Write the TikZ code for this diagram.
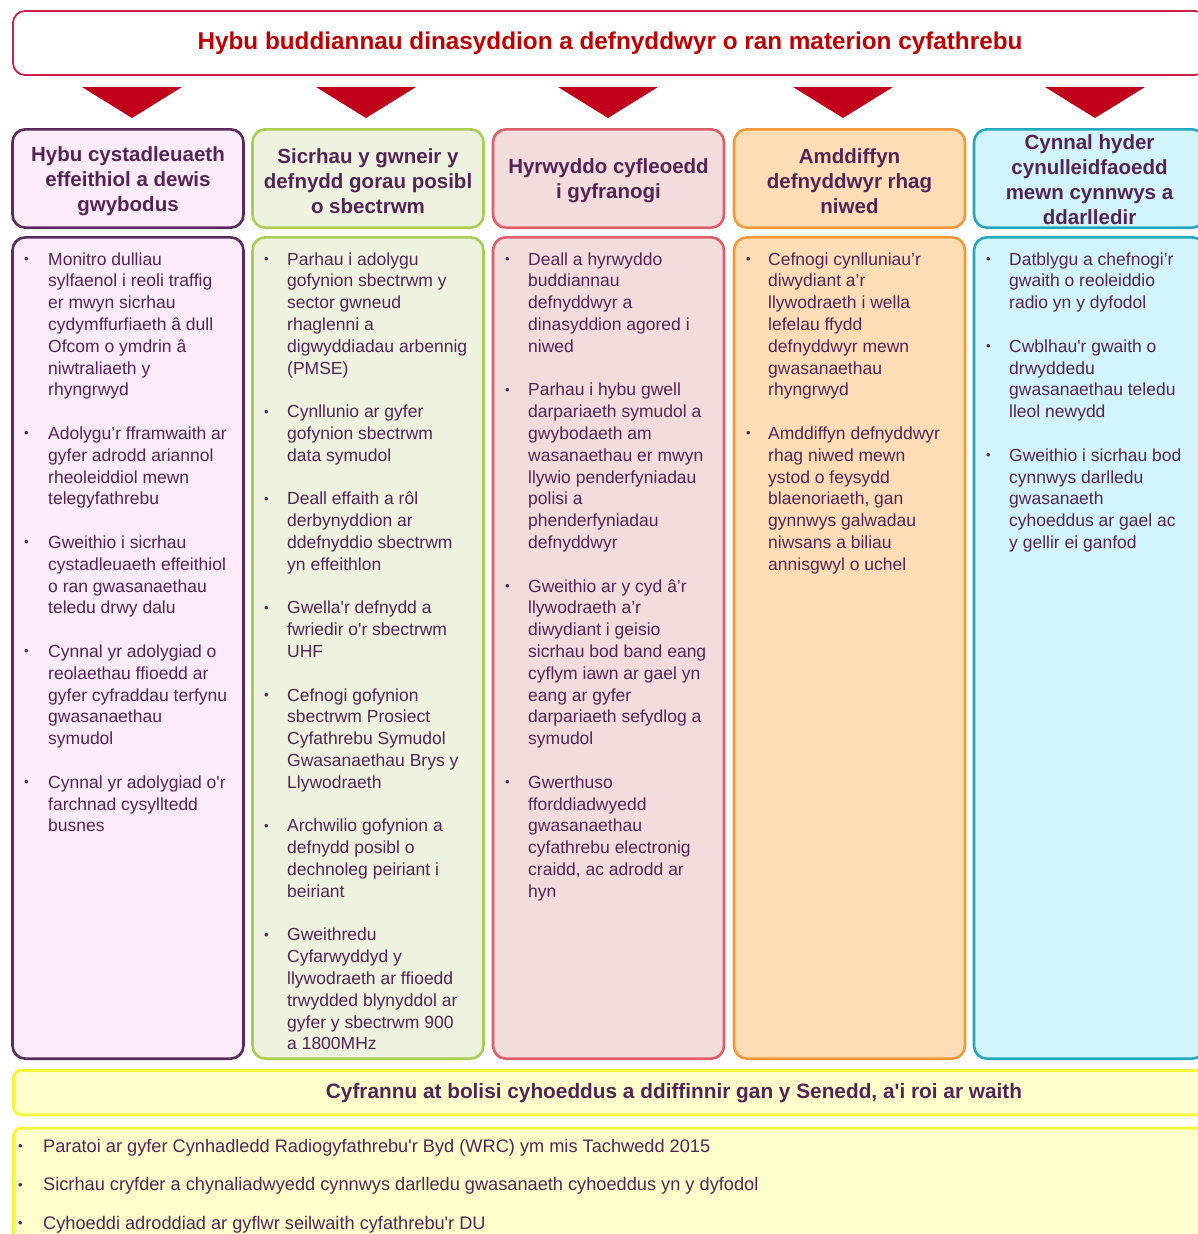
\documentclass[tikz,border=0pt]{standalone}
\usepackage{fontspec}
\setmainfont{Liberation Sans}[Ligatures=TeXOff]
\definecolor{txt}{RGB}{84,36,86}
\definecolor{titlered}{HTML}{C00000}
\definecolor{bannerred}{HTML}{CC1F4E}
\definecolor{arrowred}{HTML}{C0001A}
\definecolor{cAfill}{HTML}{FCEBF8}\definecolor{cAdraw}{HTML}{5B2A5C}
\definecolor{cBfill}{HTML}{EDF3DF}\definecolor{cBdraw}{HTML}{A8CF54}
\definecolor{cCfill}{HTML}{F2DCDC}\definecolor{cCdraw}{HTML}{DE5F6B}
\definecolor{cDfill}{HTML}{FDDDB6}\definecolor{cDdraw}{HTML}{F29A3A}
\definecolor{cEfill}{HTML}{D1F5FB}\definecolor{cEdraw}{HTML}{25A7BE}
\definecolor{yfill}{HTML}{FFFFCC}\definecolor{ydraw}{HTML}{F5F53C}
\newcommand{\bu}{\hspace{3pt}{\fontsize{13}{13}\selectfont\raisebox{1.5pt}{•}}}
\newenvironment{blist}[1]{\begin{tabular}[t]{@{}p{#1}@{}l@{}}}{\end{tabular}}
\begin{document}
\begin{tikzpicture}[x=1pt,y=-1pt,
  box/.style={draw, line width=2.6pt, rounded corners=13pt, inner sep=0pt, minimum width=231pt},
  headbox/.style={box, minimum height=98.4pt},
  bodybox/.style={box, minimum height=821.4pt},
  headtxt/.style={align=center, inner sep=0pt, font=\fontsize{20.5}{25}\selectfont\bfseries, text=txt},
  bodytxt/.style={anchor=base west, inner sep=0pt, font=\fontsize{17.5}{21.8}\selectfont, text=txt},
  arrowtri/.style={fill=arrowred, draw=none}]
\useasboundingbox (0,0) rectangle (1198,1234);
\clip (0,0) rectangle (1198,1234);
\fill[white] (0,0) rectangle (1198,1234);

% banner
\node[draw=bannerred, line width=1.8pt, fill=white, rounded corners=12pt, inner sep=0pt,
  minimum width=1194pt, minimum height=64pt] (banner) at (610,43) {};
\node[inner sep=0pt, font=\fontsize{24.3}{28}\selectfont\bfseries, text=titlered] (title) at (610,43.5)
  {Hybu buddiannau dinasyddion a defnyddwyr o ran materion cyfathrebu};

% arrows
\coordinate (a1) at (132,87);
\coordinate (a2) at (366,87);
\coordinate (a3) at (608,87);
\coordinate (a4) at (843,87);
\coordinate (a5) at (1095,87);
\foreach \a in {a1,a2,a3,a4,a5}
  \fill[arrowtri] (\a) ++(-50,0) -- ++(100,0) -- ++(-50,31) -- cycle;

% header boxes
\node[headbox, fill=cAfill, draw=cAdraw] (h1) at (128,178.5) {};
\node[headbox, fill=cBfill, draw=cBdraw] (h2) at (368,178.5) {};
\node[headbox, fill=cCfill, draw=cCdraw] (h3) at (608.5,178.5) {};
\node[headbox, fill=cDfill, draw=cDdraw] (h4) at (849.5,178.5) {};
\node[headbox, fill=cEfill, draw=cEdraw] (h5) at (1089.5,178.5) {};
\node[headtxt] (ht1) at (128,181) {Hybu cystadleuaeth\\effeithiol a dewis\\gwybodus};
\node[headtxt] (ht2) at (368,181) {Sicrhau y gwneir y\\defnydd gorau posibl\\o sbectrwm};
\node[headtxt] (ht3) at (608.5,181) {Hyrwyddo cyfleoedd\\i gyfranogi};
\node[headtxt] (ht4) at (849.5,181) {Amddiffyn\\defnyddwyr rhag\\niwed};
\node[headtxt] (ht5) at (1089.5,179.5) {Cynnal hyder\\cynulleidfaoedd\\mewn cynnwys a\\ddarlledir};

% body boxes
\node[bodybox, fill=cAfill, draw=cAdraw] (b1) at (128,648) {};
\node[bodybox, fill=cBfill, draw=cBdraw] (b2) at (368,648) {};
\node[bodybox, fill=cCfill, draw=cCdraw] (b3) at (608.5,648) {};
\node[bodybox, fill=cDfill, draw=cDdraw] (b4) at (849.5,648) {};
\node[bodybox, fill=cEfill, draw=cEdraw] (b5) at (1089.5,648) {};

\node[bodytxt] (t1) at (21,265) {\begin{blist}{27pt}
\bu & Monitro dulliau\\
 & sylfaenol i reoli traffig\\
 & er mwyn sicrhau\\
 & cydymffurfiaeth â dull\\
 & Ofcom o ymdrin â\\
 & niwtraliaeth y\\
 & rhyngrwyd\\
 & \\
\bu & Adolygu’r fframwaith ar\\
 & gyfer adrodd ariannol\\
 & rheoleiddiol mewn\\
 & telegyfathrebu\\
 & \\
\bu & Gweithio i sicrhau\\
 & cystadleuaeth effeithiol\\
 & o ran gwasanaethau\\
 & teledu drwy dalu\\
 & \\
\bu & Cynnal yr adolygiad o\\
 & reolaethau ffioedd ar\\
 & gyfer cyfraddau terfynu\\
 & gwasanaethau\\
 & symudol\\
 & \\
\bu & Cynnal yr adolygiad o'r\\
 & farchnad cysylltedd\\
 & busnes
\end{blist}};

\node[bodytxt] (t2) at (261,265) {\begin{blist}{26pt}
\bu & Parhau i adolygu\\
 & gofynion sbectrwm y\\
 & sector gwneud\\
 & rhaglenni a\\
 & digwyddiadau arbennig\\
 & (PMSE)\\
 & \\
\bu & Cynllunio ar gyfer\\
 & gofynion sbectrwm\\
 & data symudol\\
 & \\
\bu & Deall effaith a rôl\\
 & derbynyddion ar\\
 & ddefnyddio sbectrwm\\
 & yn effeithlon\\
 & \\
\bu & Gwella'r defnydd a\\
 & fwriedir o'r sbectrwm\\
 & UHF\\
 & \\
\bu & Cefnogi gofynion\\
 & sbectrwm Prosiect\\
 & Cyfathrebu Symudol\\
 & Gwasanaethau Brys y\\
 & Llywodraeth\\
 & \\
\bu & Archwilio gofynion a\\
 & defnydd posibl o\\
 & dechnoleg peiriant i\\
 & beiriant\\
 & \\
\bu & Gweithredu\\
 & Cyfarwyddyd y\\
 & llywodraeth ar ffioedd\\
 & trwydded blynyddol ar\\
 & gyfer y sbectrwm 900\\
 & a 1800MHz
\end{blist}};

\node[bodytxt] (t3) at (502,265) {\begin{blist}{26pt}
\bu & Deall a hyrwyddo\\
 & buddiannau\\
 & defnyddwyr a\\
 & dinasyddion agored i\\
 & niwed\\
 & \\
\bu & Parhau i hybu gwell\\
 & darpariaeth symudol a\\
 & gwybodaeth am\\
 & wasanaethau er mwyn\\
 & llywio penderfyniadau\\
 & polisi a\\
 & phenderfyniadau\\
 & defnyddwyr\\
 & \\
\bu & Gweithio ar y cyd â’r\\
 & llywodraeth a’r\\
 & diwydiant i geisio\\
 & sicrhau bod band eang\\
 & cyflym iawn ar gael yn\\
 & eang ar gyfer\\
 & darpariaeth sefydlog a\\
 & symudol\\
 & \\
\bu & Gwerthuso\\
 & fforddiadwyedd\\
 & gwasanaethau\\
 & cyfathrebu electronig\\
 & craidd, ac adrodd ar\\
 & hyn
\end{blist}};

\node[bodytxt] (t4) at (743,265) {\begin{blist}{25pt}
\bu & Cefnogi cynlluniau’r\\
 & diwydiant a’r\\
 & llywodraeth i wella\\
 & lefelau ffydd\\
 & defnyddwyr mewn\\
 & gwasanaethau\\
 & rhyngrwyd\\
 & \\
\bu & Amddiffyn defnyddwyr\\
 & rhag niwed mewn\\
 & ystod o feysydd\\
 & blaenoriaeth, gan\\
 & gynnwys galwadau\\
 & niwsans a biliau\\
 & annisgwyl o uchel
\end{blist}};

\node[bodytxt] (t5) at (983,265) {\begin{blist}{26pt}
\bu & Datblygu a chefnogi’r\\
 & gwaith o reoleiddio\\
 & radio yn y dyfodol\\
 & \\
\bu & Cwblhau'r gwaith o\\
 & drwyddedu\\
 & gwasanaethau teledu\\
 & lleol newydd\\
 & \\
\bu & Gweithio i sicrhau bod\\
 & cynnwys darlledu\\
 & gwasanaeth\\
 & cyhoeddus ar gael ac\\
 & y gellir ei ganfod
\end{blist}};

% bottom section
\node[draw=ydraw, fill=yfill, line width=3pt, rounded corners=8pt, inner sep=0pt,
  minimum width=1321pt, minimum height=44.5pt] (bh) at (674,1092.5) {};
\node[inner sep=0pt, font=\fontsize{20.8}{24}\selectfont\bfseries, text=txt] (bht) at (674,1093.5)
  {Cyfrannu at bolisi cyhoeddus a ddiffinnir gan y Senedd, a'i roi ar waith};
\node[draw=ydraw, fill=yfill, line width=3pt, rounded corners=8pt, inner sep=0pt,
  minimum width=1321pt, minimum height=220pt] (bb) at (674,1238) {};
\node[anchor=base west, inner sep=0pt, font=\fontsize{18.2}{38.5}\selectfont, text=txt] (bbt) at (15,1152)
  {\begin{blist}{28pt}
\bu & Paratoi ar gyfer Cynhadledd Radiogyfathrebu'r Byd (WRC) ym mis Tachwedd 2015\\
\bu & Sicrhau cryfder a chynaliadwyedd cynnwys darlledu gwasanaeth cyhoeddus yn y dyfodol\\
\bu & Cyhoeddi adroddiad ar gyflwr seilwaith cyfathrebu'r DU
\end{blist}};
\end{tikzpicture}
\end{document}
